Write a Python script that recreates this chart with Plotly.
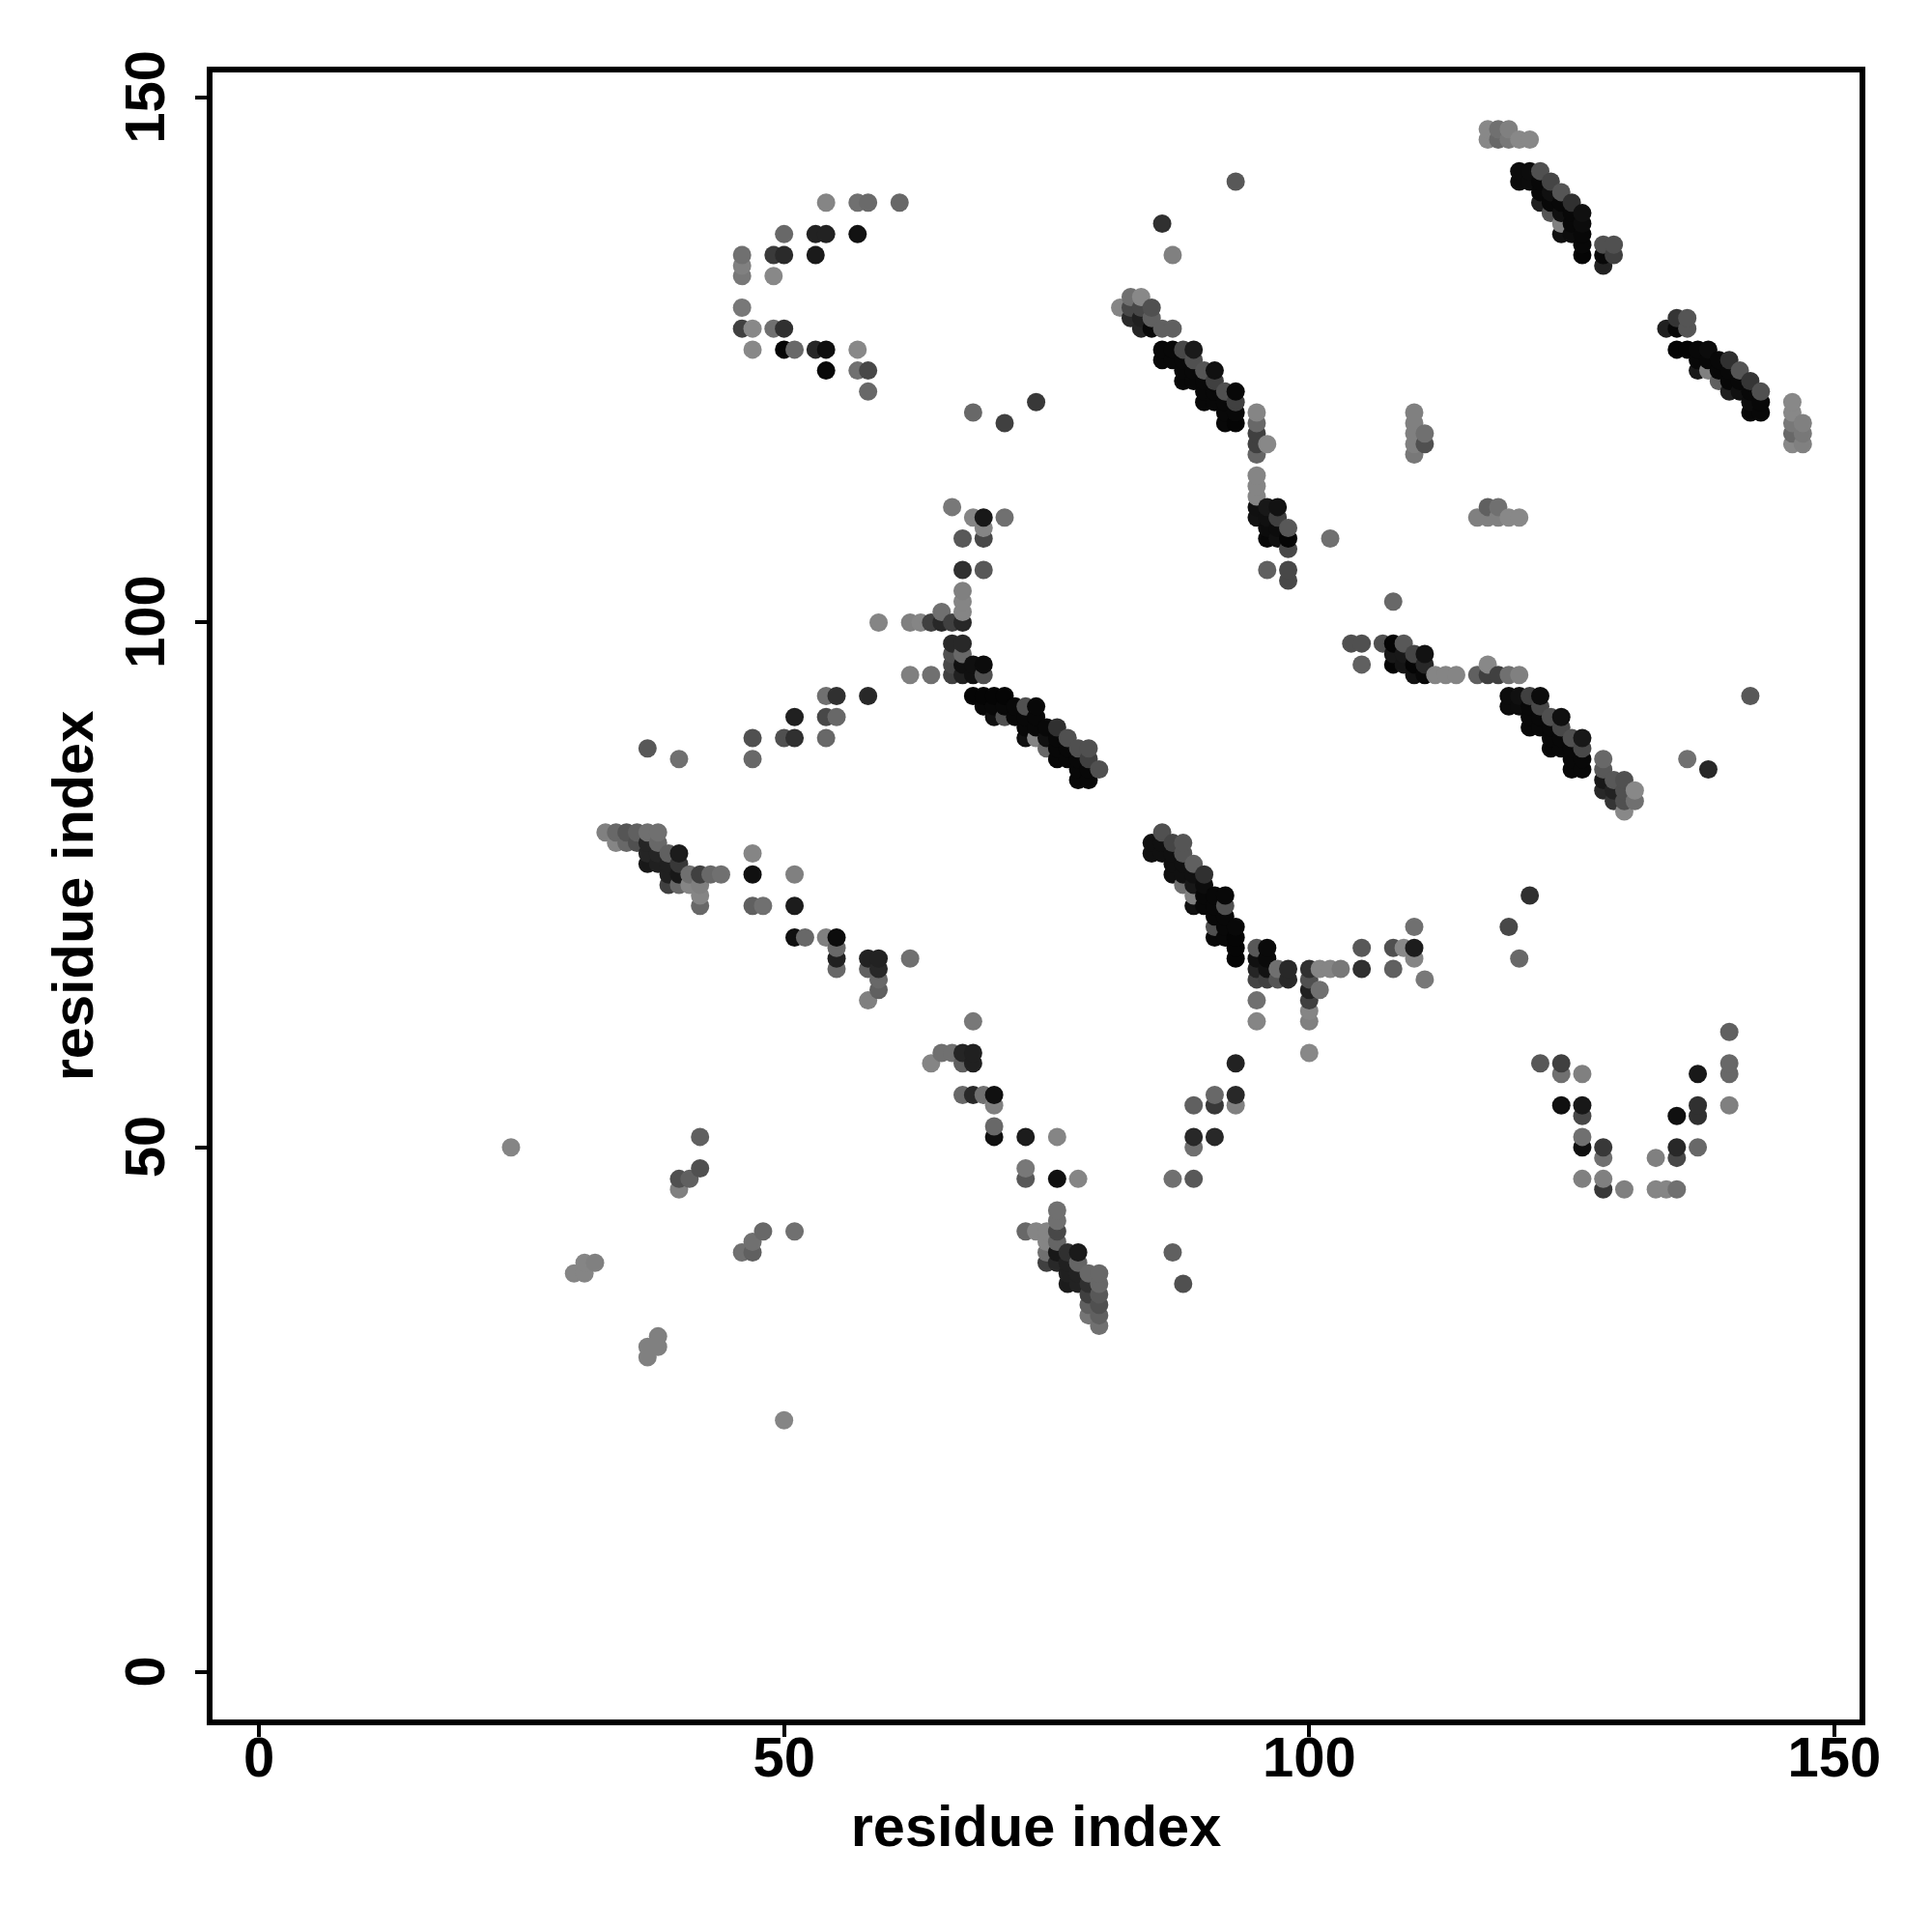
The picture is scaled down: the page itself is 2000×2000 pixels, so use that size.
import plotly.graph_objects as go

axis_label = "residue index"
tick_values = [0, 50, 100, 150]
tick_labels = ["0", "50", "100", "150"]

# one row per y residue; row_x / row_level are parallel lists
row_y = [147,146,143,142,141,140,139,138,137,136,135,134,133,131,130,129,128,126,125,124,
         123,122,121,120,119,118,117,116,114,113,112,111,110,109,108,107,105,104,103,102,
         101,100,98,97,96,95,93,92,91,90,89,88,87,86,85,84,83,82,80,79,
         78,77,76,75,74,73,72,71,70,69,68,67,66,65,64,63,62,61,59,58,
         57,55,54,53,52,51,50,49,48,47,46,44,43,42,41,40,39,38,37,36,
         35,34,33,32,31,30,24]

row_x = [
 [117,118,119],
 [117,118,119,120,121],
 [120,121,122],
 [93,120,121,122,123],
 [122,123,124],
 [54,57,58,61,122,123,124,125],
 [123,124,125,126],
 [86,124,125,126],
 [50,53,54,57,124,125,126],
 [126,128,129],
 [46,49,50,53,87,126,128,129],
 [46,128],
 [46,49],
 [83,84],
 [46,82,83,84,85],
 [83,84,85,135,136],
 [46,47,49,50,84,85,86,87,134,135,136],
 [47,50,51,53,54,57,86,87,88,89,135,136,137,138],
 [86,87,88,89,137,138,139,140],
 [54,57,58,88,89,90,91,137,138,139,140,141],
 [88,89,90,91,139,140,141,142],
 [58,90,91,92,93,140,141,142,143],
 [74,90,91,92,93,142,143,146],
 [68,92,93,95,110,142,143,146],
 [71,92,93,95,110,146,147],
 [95,110,111,146,147],
 [95,96,110,111,146,147],
 [95,110],
 [95],
 [95],
 [95],
 [66,95,96,97,117,118],
 [68,69,71,95,96,97,116,117,118,119,120],
 [69,96,97,98],
 [67,69,96,97,98,102],
 [98],
 [67,69,96,98],
 [98],
 [67],
 [67,108],
 [65,67],
 [59,62,63,64,65,66,67],
 [66,67,104,105,107,108,109],
 [66,67,108,109,110,111],
 [66,67,68,69,105,108,109,110,111,117],
 [62,64,66,67,68,69,110,111,112,113,114,116,117,118,119,120],
 [54,55,58,68,69,70,71,119,120,121,122,142],
 [69,70,71,72,73,74,119,120,121,122],
 [51,54,55,70,71,72,73,74,121,122,123,124],
 [73,74,75,76,121,122,123,124],
 [47,50,51,54,73,74,75,76,77,123,124,125,126],
 [37,75,76,77,78,79,123,124,125,126],
 [40,47,76,77,78,79,125,126,128,136],
 [78,79,80,125,126,128,138],
 [78,79,128,129,130],
 [128,129,130,131],
 [129,130,131],
 [130],
 [33,34,35,36,37,38,86],
 [34,35,36,37,38,85,86,87,88],
 [37,38,39,40,47,85,86,87,88],
 [37,38,39,40,87,88,89],
 [39,40,41,42,43,44,47,51,87,88,89,90],
 [39,40,41,42,88,89,90],
 [42,89,90,91,92,121],
 [42,47,48,51,89,90,91,92],
 [91,92],
 [91,92,93,110,119],
 [51,52,54,55,91,92,93],
 [55,93,95,96,105,108,109,110],
 [55,58,59,62,93,95,96,110,120],
 [55,58,59,95,96,97,98,100,101,102,103,105,108],
 [59,95,96,97,98,100,111],
 [59,100,101],
 [58,95,100],
 [100],
 [68,95,100],
 [140],
 [65,66,67,68,100],
 [64,67,68,93,122,124,140],
 [124,126,137,140],
 [67,68,69,70,91,93],
 [70,89,91,93,124,126,137,140],
 [126,135,137],
 [70],
 [42,70,73,76,89,91,126],
 [24,89,126,128,135,137],
 [128,133,135],
 [42,73],
 [40,41,73,76,78,87,89,126,128],
 [40,128,130,133,134,135],
 [76],
 [76],
 [48,51,73,74,75,76],
 [47,75,76],
 [46,47,75,76,77,78,87],
 [31,32,75,76,77,78],
 [30,31,77,78,79,80],
 [77,78,79,80,88],
 [79,80],
 [79,80],
 [79,80],
 [80],
 [38],
 [37,38],
 [37],
 [50],
]

# darkness level of each point (0 = black, 255 = white)
row_level = [
 [0x88,0x70,0x80],
 [0x88,0x68,0x78,0x88,0x88],
 [0x0c,0x0c,0x50],
 [0x58,0x0c,0x0c,0x08,0x45],
 [0x08,0x10,0x55],
 [0x85,0x70,0x6a,0x68,0x20,0x08,0x08,0x30],
 [0x55,0x10,0x08,0x10],
 [0x30,0x80,0x08,0x0c],
 [0x68,0x22,0x22,0x12,0x10,0x0c,0x08],
 [0x08,0x50,0x50],
 [0x70,0x3a,0x2a,0x1a,0x80,0x05,0x08,0x40],
 [0x80,0x22],
 [0x78,0x88],
 [0x70,0x88],
 [0x78,0x85,0x48,0x48,0x50],
 [0x2a,0x20,0x60,0x35,0x55],
 [0x40,0x88,0x70,0x30,0x25,0x08,0x60,0x60,0x20,0x08,0x55],
 [0x88,0x05,0x68,0x28,0x0f,0x88,0x08,0x08,0x48,0x1a,0x05,0x05,0x08,0x0c],
 [0x08,0x08,0x08,0x50,0x08,0x08,0x08,0x30],
 [0x08,0x70,0x48,0x08,0x08,0x55,0x10,0x18,0x80,0x08,0x08,0x55],
 [0x08,0x08,0x08,0x40,0x60,0x08,0x08,0x35],
 [0x68,0x08,0x08,0x50,0x08,0x20,0x10,0x08,0x50],
 [0x38,0x08,0x08,0x08,0x40,0x0c,0x08,0x88],
 [0x68,0x08,0x08,0x85,0x80,0x08,0x08,0x88],
 [0x40,0x08,0x05,0x68,0x80,0x78,0x80],
 [0x40,0x80,0x70,0x68,0x78],
 [0x40,0x88,0x80,0x50,0x88,0x80],
 [0x65,0x78],
 [0x85],
 [0x85],
 [0x85],
 [0x78,0x10,0x18,0x12,0x60,0x70],
 [0x85,0x18,0x70,0x12,0x10,0x40,0x80,0x80,0x80,0x88,0x88],
 [0x85,0x0c,0x0c,0x58],
 [0x58,0x48,0x08,0x10,0x05,0x70],
 [0x48],
 [0x30,0x58,0x60,0x48],
 [0x48],
 [0x80],
 [0x85,0x68],
 [0x70,0x85],
 [0x85,0x80,0x85,0x40,0x28,0x40,0x28],
 [0x28,0x28,0x50,0x50,0x50,0x05,0x58],
 [0x50,0x68,0x18,0x18,0x45,0x12],
 [0x48,0x10,0x10,0x0c,0x60,0x05,0x15,0x05,0x28,0x88],
 [0x80,0x70,0x40,0x20,0x10,0x50,0x12,0x08,0x85,0x85,0x85,0x60,0x40,0x40,0x70,0x80],
 [0x70,0x30,0x28,0x05,0x05,0x05,0x05,0x0c,0x10,0x40,0x0c,0x58],
 [0x08,0x08,0x08,0x08,0x50,0x08,0x0c,0x0c,0x08,0x48],
 [0x20,0x48,0x68,0x10,0x50,0x08,0x08,0x08,0x08,0x08,0x50,0x10],
 [0x08,0x08,0x08,0x30,0x08,0x08,0x08,0x48],
 [0x50,0x50,0x30,0x68,0x10,0x85,0x10,0x08,0x50,0x08,0x08,0x50,0x18],
 [0x58,0x68,0x08,0x08,0x50,0x50,0x08,0x08,0x08,0x48],
 [0x70,0x68,0x08,0x08,0x08,0x40,0x08,0x08,0x68,0x70],
 [0x08,0x08,0x50,0x08,0x08,0x58,0x28],
 [0x08,0x08,0x18,0x58,0x50],
 [0x28,0x22,0x50,0x88],
 [0x35,0x50,0x70],
 [0x88],
 [0x80,0x68,0x55,0x60,0x70,0x70,0x50],
 [0x85,0x68,0x50,0x25,0x68,0x10,0x10,0x45,0x55],
 [0x25,0x25,0x60,0x1c,0x85,0x10,0x10,0x10,0x55],
 [0x18,0x20,0x20,0x38,0x10,0x10,0x60],
 [0x20,0x18,0x70,0x40,0x68,0x70,0x10,0x80,0x10,0x10,0x10,0x30],
 [0x40,0x68,0x85,0x80,0x70,0x18,0x0c],
 [0x85,0x80,0x08,0x08,0x08,0x30],
 [0x68,0x60,0x70,0x1c,0x10,0x08,0x08,0x50],
 [0x08,0x08],
 [0x50,0x08,0x08,0x70,0x48],
 [0x10,0x68,0x80,0x0c,0x08,0x08,0x05],
 [0x68,0x05,0x58,0x0a,0x58,0x50,0x88,0x1c],
 [0x20,0x22,0x22,0x70,0x05,0x10,0x0a,0x85,0x68],
 [0x68,0x60,0x28,0x25,0x12,0x70,0x28,0x30,0x85,0x85,0x78,0x30,0x60],
 [0x68,0x45,0x40,0x55,0x28,0x50,0x78],
 [0x60,0x20,0x70],
 [0x80,0x70,0x40],
 [0x85],
 [0x78,0x85,0x80],
 [0x60],
 [0x70,0x70,0x25,0x20,0x88],
 [0x85,0x60,0x20,0x22,0x58,0x40,0x68],
 [0x70,0x80,0x18,0x68],
 [0x68,0x28,0x70,0x10,0x68,0x28],
 [0x80,0x60,0x38,0x80,0x10,0x18,0x30,0x80],
 [0x48,0x10,0x30],
 [0x68],
 [0x60,0x10,0x1c,0x85,0x28,0x28,0x70],
 [0x85,0x70,0x10,0x38,0x28,0x68],
 [0x70,0x80,0x48],
 [0x50,0x78],
 [0x50,0x60,0x58,0x10,0x85,0x70,0x58,0x80,0x80],
 [0x80,0x38,0x80,0x85,0x85,0x70],
 [0x70],
 [0x70],
 [0x68,0x70,0x68,0x85,0x85,0x48],
 [0x70,0x85,0x65],
 [0x70,0x60,0x70,0x18,0x30,0x1a,0x60],
 [0x85,0x80,0x40,0x28,0x20,0x65],
 [0x85,0x85,0x20,0x22,0x68,0x68],
 [0x1c,0x22,0x30,0x68,0x50],
 [0x40,0x58],
 [0x60,0x50],
 [0x75,0x60],
 [0x70],
 [0x80],
 [0x80,0x80],
 [0x80],
 [0x85],
]

points = sorted(
    (x, y, g)
    for y, xs, gs in zip(row_y, row_x, row_level)
    for x, g in zip(xs, gs)
)
xs = [p[0] for p in points]
ys = [p[1] for p in points]
gs = [p[2] for p in points]

fig = go.Figure(go.Scatter(
    x=xs, y=ys, mode="markers",
    marker=dict(size=19, color=gs, cmin=0, cmax=255,
                colorscale=[[0, "rgb(0,0,0)"], [1, "rgb(255,255,255)"]],
                showscale=False, line=dict(width=0)),
    hoverinfo="skip",
))

tick_font = dict(family="Liberation Sans", size=58, color="black", weight="bold")
title_font = dict(family="Liberation Sans", size=59.5, color="black", weight="bold")
axis_common = dict(
    tickvals=tick_values, ticktext=tick_labels, tickfont=tick_font,
    ticks="outside", ticklen=12, tickwidth=3.5, tickcolor="black",
    showline=True, linewidth=6, linecolor="black", mirror=True,
    showgrid=False, zeroline=False,
)
fig.update_xaxes(range=[-4.42, 152.4], ticklabelstandoff=-29,
                 title=dict(text=axis_label, font=title_font, standoff=22), **axis_common)
fig.update_yaxes(range=[-4.5, 152.4], tickangle=-90, ticklabelstandoff=9, ticklabelshift=8,
                 title=dict(text=axis_label, font=title_font, standoff=3), **axis_common)
fig.update_layout(
    width=2000, height=2000, autosize=False,
    margin=dict(l=220, r=75, t=75, b=220),
    plot_bgcolor="white", paper_bgcolor="white", showlegend=False,
)
fig.write_html("out.html", config=dict(displayModeBar=False),
               post_script="document.body.style.margin='0';")
